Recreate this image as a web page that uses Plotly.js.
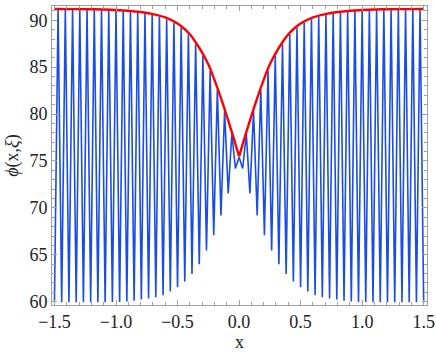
<!DOCTYPE html>
<html>
<head>
<meta charset="utf-8">
<script src="https://cdn.plot.ly/plotly-3.0.1.min.js"></script>
<style>html,body{margin:0;padding:0;background:#fff;}#chart{width:436px;height:352px;}</style>
</head>
<body>
<div id="chart"></div>
<script>
// Blue curve: alternating troughs / peaks
var blueX = [
 -1.5, -1.4706, -1.4412, -1.4118, -1.3824, -1.3529, -1.3235, -1.2941, -1.2647, -1.2353,
 -1.2059, -1.1765, -1.1471, -1.1176, -1.0882, -1.0588, -1.0294, -1.0, -0.9706, -0.9412,
 -0.9118, -0.8824, -0.8529, -0.8235, -0.7941, -0.7647, -0.7353, -0.7059, -0.6765, -0.6471,
 -0.6176, -0.5882, -0.5588, -0.5294, -0.5, -0.4706, -0.4412, -0.4118, -0.3824, -0.3529,
 -0.3235, -0.2941, -0.2647, -0.2353, -0.2059, -0.1765, -0.1471, -0.1176, -0.0882, -0.0588,
 -0.0294, 0,
 0.0294, 0.0588, 0.0882, 0.1176, 0.1471, 0.1765, 0.2059, 0.2353, 0.2647, 0.2941,
 0.3235, 0.3529, 0.3824, 0.4118, 0.4412, 0.4706, 0.5, 0.5294, 0.5588, 0.5882,
 0.6176, 0.6471, 0.6765, 0.7059, 0.7353, 0.7647, 0.7941, 0.8235, 0.8529, 0.8824,
 0.9118, 0.9412, 0.9706, 1.0, 1.0294, 1.0588, 1.0882, 1.1176, 1.1471, 1.1765,
 1.2059, 1.2353, 1.2647, 1.2941, 1.3235, 1.3529, 1.3824, 1.4118, 1.4412, 1.4706, 1.5
];
var blueY = [
 59.95, 91.16, 59.95, 91.15, 59.95, 91.15, 59.95, 91.14, 59.95, 91.13,
 59.95, 91.12, 59.95, 91.10, 59.95, 91.08, 59.96, 91.05, 59.98, 91.00,
 60.02, 90.93, 60.11, 90.85, 60.23, 90.72, 60.34, 90.57, 60.47, 90.40,
 60.70, 90.10, 61.10, 89.70, 61.55, 89.20, 62.15, 88.50, 62.95, 87.45,
 64.00, 86.20, 65.45, 84.60, 67.10, 82.60, 69.20, 80.35, 71.55, 77.90,
 74.20, 75.40,
 74.20, 77.90, 71.55, 80.35, 69.20, 82.60, 67.10, 84.60, 65.45, 86.20,
 64.00, 87.45, 62.95, 88.50, 62.15, 89.20, 61.55, 89.70, 61.10, 90.10,
 60.70, 90.40, 60.47, 90.57, 60.34, 90.72, 60.23, 90.85, 60.11, 90.93,
 60.02, 91.00, 59.98, 91.05, 59.96, 91.08, 59.95, 91.10, 59.95, 91.12,
 59.95, 91.13, 59.95, 91.14, 59.95, 91.15, 59.95, 91.15, 59.95, 91.16, 59.95
];
// Red envelope, left and right halves meeting at the cusp x = 0
var redLeftX = [-1.5, -1.35, -1.2, -1.1, -1.0, -0.9, -0.8, -0.7, -0.6, -0.5, -0.45, -0.4, -0.35, -0.3, -0.25, -0.2, -0.15, -0.1, -0.05, 0];
var redLeftY = [91.2, 91.19, 91.17, 91.15, 91.1, 91.02, 90.88, 90.65, 90.3, 89.65, 89.15, 88.5, 87.6, 86.55, 85.3, 83.65, 81.8, 79.8, 77.7, 75.5];
var redRightX = [0, 0.05, 0.1, 0.15, 0.2, 0.25, 0.3, 0.35, 0.4, 0.45, 0.5, 0.6, 0.7, 0.8, 0.9, 1.0, 1.1, 1.2, 1.35, 1.5];
var redRightY = [75.5, 77.7, 79.8, 81.8, 83.65, 85.3, 86.55, 87.6, 88.5, 89.15, 89.65, 90.3, 90.65, 90.88, 91.02, 91.1, 91.15, 91.17, 91.19, 91.2];

var xTickVals = [-1.5, -1.0, -0.5, 0.0, 0.5, 1.0, 1.5];
var xTickText = ['\u22121.5', '\u22121.0', '\u22120.5', '0.0', '0.5', '1.0', '1.5'];
var yTickVals = [60, 65, 70, 75, 80, 85, 90];

var blue = '#1a4de8', red = '#ff0000';
var traces = [
  {x: blueX, y: blueY, type: 'scatter', mode: 'lines', line: {color: blue, width: 1.6}, hoverinfo: 'skip'},
  {x: redLeftX, y: redLeftY, type: 'scatter', mode: 'lines', line: {color: red, width: 2.4, shape: 'spline', smoothing: 1}, hoverinfo: 'skip'},
  {x: redRightX, y: redRightY, type: 'scatter', mode: 'lines', line: {color: red, width: 2.4, shape: 'spline', smoothing: 1}, hoverinfo: 'skip'}
];

var font = {family: '"Liberation Serif", "DejaVu Serif", serif', size: 18, color: '#222'};
var axisCommon = {
  showgrid: false, zeroline: false, showline: true, linecolor: '#a0a0a0', linewidth: 1,
  mirror: 'allticks', ticks: 'inside', ticklen: 5, tickcolor: '#a0a0a0', tickwidth: 1,
  tickfont: font
};
var layout = {
  width: 436, height: 352,
  margin: {l: 52, r: 9, t: 6, b: 47},
  paper_bgcolor: '#fff', plot_bgcolor: '#fff',
  showlegend: false,
  xaxis: Object.assign({}, axisCommon, {
    range: [-1.52, 1.527], tickmode: 'array', tickvals: xTickVals, ticktext: xTickText,
    minor: {dtick: 0.1, tick0: 0, ticks: 'inside', ticklen: 3, tickcolor: '#a0a0a0'},
    title: {text: 'x', font: font, standoff: 6}
  }),
  yaxis: Object.assign({}, axisCommon, {
    range: [59.65, 91.52], tickmode: 'array', tickvals: yTickVals,
    minor: {dtick: 1, tick0: 0, ticks: 'inside', ticklen: 3, tickcolor: '#a0a0a0'},
    title: {text: '<i>\u03d5</i>(x,<i>\u03be</i>)', font: {family: font.family, size: 18, color: '#222'}, standoff: 6}
  })
};
Plotly.newPlot('chart', traces, layout, {staticPlot: true, displayModeBar: false});
</script>
</body>
</html>
